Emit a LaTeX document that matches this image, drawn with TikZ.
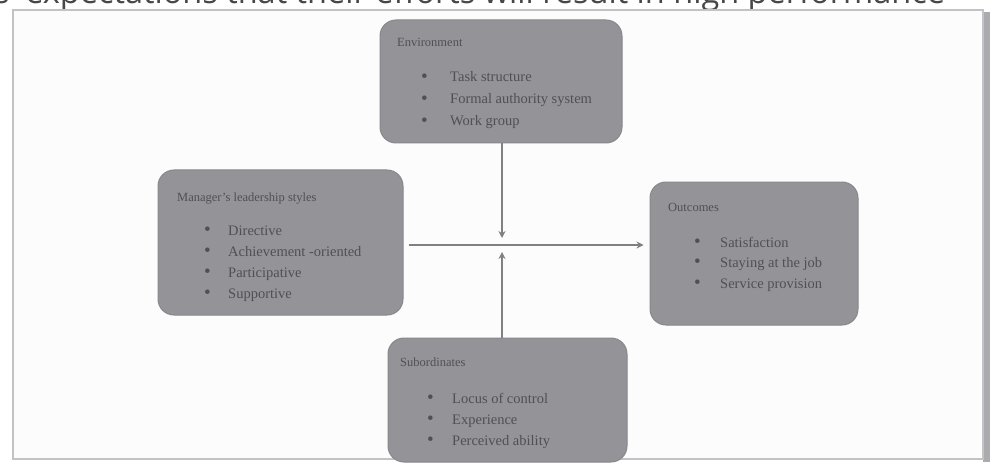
\documentclass[tikz,border=0pt]{standalone}
\usepackage{fontspec}
\setmainfont{Liberation Serif}
\newfontfamily\topfont{Open Sans}
\usetikzlibrary{arrows.meta}
\definecolor{boxfill}{RGB}{148,148,152}
\definecolor{boxedge}{RGB}{135,135,140}
\definecolor{boxtext}{RGB}{80,80,84}
\definecolor{linegray}{RGB}{128,128,132}
\definecolor{framegray}{RGB}{195,195,197}
\definecolor{shadowgray}{RGB}{170,170,175}
\definecolor{pagebg}{RGB}{252,252,252}
\newcommand{\bulletmark}[1]{\makebox[#1][l]{\raisebox{-0.5pt}{\fontsize{19}{19}\selectfont\textbullet}}}
\tikzset{
  box/.style={draw=boxedge, fill=boxfill, rounded corners=16pt, line width=1pt, inner sep=0pt},
  boxtitle/.style={anchor=base west, text=boxtext, font=\fontsize{12.5}{12.5}\selectfont, inner sep=0pt},
  item/.style={anchor=base west, text=boxtext, font=\fontsize{14.5}{14.5}\selectfont, inner sep=0pt},
  conn/.style={draw=linegray, line width=1.8pt, -{Stealth[length=7pt,width=7pt]}},
}
\begin{document}
\begin{tikzpicture}[x=1pt,y=-1pt]
\useasboundingbox (0,0) rectangle (992,465);
\fill[white] (0,0) rectangle (992,465);
% cut-off line of text above the figure
\begin{scope}
\clip (0,0) rectangle (992,465);
\node[anchor=base west, inner sep=0pt, text=black!72, font=\topfont\fontsize{32.5}{32.5}\selectfont] (toptext) at (-6,3.5) {s' expectations that their efforts will result in high performance};
\end{scope}
% frame
\fill[shadowgray] (983,12) rectangle (990,462);
\fill[pagebg] (13,10) rectangle (983,459);
\draw[framegray, line width=2pt] (13,10) rectangle (983,459);

% boxes
\node[box, minimum width=242pt, minimum height=123pt] (env) at (501,81.5) {};
\node[box, minimum width=245pt, minimum height=145pt] (man) at (280.5,242.5) {};
\node[box, minimum width=208pt, minimum height=143pt] (out) at (754,253.5) {};
\node[box, minimum width=239pt, minimum height=124pt] (sub) at (507.5,400) {};

% Environment
\node[boxtitle] (envT) at (397,47) {Environment};
\node[item] (env1) at (421,82) {\bulletmark{29pt}Task structure};
\node[item] (env2) at (421,104) {\bulletmark{29pt}Formal authority system};
\node[item] (env3) at (421,126) {\bulletmark{29pt}Work group};

% Manager
\node[boxtitle] (manT) at (177,201) {Manager's leadership styles};
\node[item] (man1) at (204,235) {\bulletmark{24pt}Directive};
\node[item] (man2) at (204,256) {\bulletmark{24pt}Achievement -oriented};
\node[item] (man3) at (204,277) {\bulletmark{24pt}Participative};
\node[item] (man4) at (204,298) {\bulletmark{24pt}Supportive};

% Outcomes
\node[boxtitle] (outT) at (668,211) {Outcomes};
\node[item] (out1) at (694,247) {\bulletmark{26pt}Satisfaction};
\node[item] (out2) at (694,267) {\bulletmark{26pt}Staying at the job};
\node[item] (out3) at (694,288) {\bulletmark{26pt}Service provision};

% Subordinates
\node[boxtitle] (subT) at (400,366) {Subordinates};
\node[item] (sub1) at (427,403) {\bulletmark{25pt}Locus of control};
\node[item] (sub2) at (427,424) {\bulletmark{25pt}Experience};
\node[item] (sub3) at (427,445) {\bulletmark{25pt}Perceived ability};

% connectors
\coordinate (jn) at (502,245);
\coordinate (tipA) at (502,238);
\coordinate (tipB) at (502,252);
\draw[conn] (env.south -| tipA) -- (tipA);
\draw[conn] (sub.north -| tipB) -- (tipB);
\draw[conn, shorten <=5pt, shorten >=6pt] (man.east |- jn) -- (out.west |- jn);
\end{tikzpicture}
\end{document}
